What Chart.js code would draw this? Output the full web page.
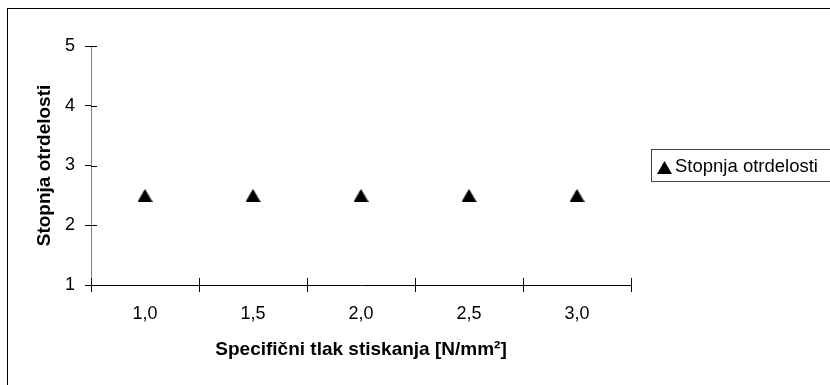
<!DOCTYPE html>
<html>
<head>
<meta charset="utf-8">
<script src="https://cdn.jsdelivr.net/npm/chart.js@4.4.0/dist/chart.umd.min.js"></script>
<style>
  html, body { margin: 0; padding: 0; background: #fff; }
  canvas { display: block; }
</style>
</head>
<body>
<canvas id="chart" width="830" height="385"></canvas>
<script>
// Pressure levels (N/mm²) and the hardening grade measured at each
const categories = ['1,0', '1,5', '2,0', '2,5', '3,0'];
const stopnjaOtrdelosti = [2.5, 2.5, 2.5, 2.5, 2.5];
const yTickValues = [1, 2, 3, 4, 5];
const seriesLabel = 'Stopnja otrdelosti';
const xTitle = 'Specifični tlak stiskanja [N/mm²]';
const yTitle = 'Stopnja otrdelosti';

const FONT = "'Liberation Sans', Arial, Helvetica, sans-serif";

// Filled triangle marker, centred on its bounding box
function triangleMarker(w, h) {
  const c = document.createElement('canvas');
  c.width = w; c.height = h;
  const g = c.getContext('2d');
  g.fillStyle = '#000';
  g.beginPath();
  g.moveTo(w / 2, 0);
  g.lineTo(w, h);
  g.lineTo(0, h);
  g.closePath();
  g.fill();
  return c;
}
const marker = triangleMarker(15, 13);

// Tick marks that cross the axis lines, an outer frame, and a boxed legend
const framePlugin = {
  id: 'frame',
  afterDraw(chart) {
    const ctx = chart.ctx;
    const a = chart.chartArea;
    const x = chart.scales.x;
    const y = chart.scales.y;
    ctx.save();
    ctx.strokeStyle = '#000';
    ctx.lineWidth = 1;
    ctx.beginPath();
    // inner halves of the y ticks
    y.ticks.forEach(t => {
      const py = Math.round(y.getPixelForValue(t.value)) + 0.5;
      ctx.moveTo(a.left, py);
      ctx.lineTo(a.left + 6, py);
    });
    // inner halves of the x ticks at category boundaries
    for (let i = 0; i <= categories.length; i++) {
      const px = Math.round(x.getPixelForValue(i - 0.5)) + 0.5;
      ctx.moveTo(px, a.bottom);
      ctx.lineTo(px, a.bottom - 7);
    }
    ctx.stroke();

    // outer frame
    ctx.strokeStyle = '#000';
    ctx.strokeRect(7.5, 8.5, 900, 900);

    // legend
    const ds = chart.data.datasets[0];
    ctx.fillStyle = '#fff';
    ctx.fillRect(651.5, 149.5, 300, 32);
    ctx.strokeStyle = '#444';
    ctx.strokeRect(651.5, 149.5, 300, 32);
    ctx.drawImage(marker, 657, 161);
    ctx.fillStyle = '#000';
    ctx.font = '18.5px ' + FONT;
    ctx.textBaseline = 'middle';
    ctx.textAlign = 'left';
    ctx.fillText(ds.label, 675, 166.5);
    ctx.restore();
  }
};

new Chart(document.getElementById('chart'), {
  type: 'line',
  data: {
    labels: categories,
    datasets: [{
      label: seriesLabel,
      data: stopnjaOtrdelosti,
      showLine: false,
      pointStyle: marker,
      pointRadius: 8,
      pointHoverRadius: 8,
      borderColor: '#000',
      backgroundColor: '#000'
    }]
  },
  options: {
    responsive: false,
    animation: false,
    events: [],
    layout: { padding: { top: 46, right: 199, bottom: 0, left: 0 } },
    plugins: {
      legend: { display: false },
      tooltip: { enabled: false }
    },
    scales: {
      x: {
        type: 'category',
        offset: true,
        grid: {
          offset: true,
          drawOnChartArea: false,
          drawTicks: true,
          tickLength: 7,
          color: '#000',
          lineWidth: 1
        },
        border: { display: true, color: '#000', width: 1 },
        ticks: {
          color: '#000',
          font: { family: FONT, size: 18, lineHeight: 1.2 },
          padding: 11,
          maxRotation: 0,
          autoSkip: false
        },
        title: {
          display: true,
          text: xTitle,
          color: '#000',
          font: { family: FONT, size: 19, weight: 'bold', lineHeight: 1.2 },
          padding: { top: 0, bottom: 23.6 }
        },
        afterFit(scale) { scale.height = 100; }
      },
      y: {
        type: 'linear',
        min: 1,
        max: 5,
        afterBuildTicks(scale) { scale.ticks = yTickValues.map(v => ({ value: v })); },
        grid: {
          drawOnChartArea: false,
          drawTicks: true,
          tickLength: 6,
          color: '#000',
          lineWidth: 1
        },
        border: { display: true, color: '#808080', width: 1 },
        ticks: {
          color: '#000',
          font: { family: FONT, size: 18, lineHeight: 1.2 },
          padding: 10
        },
        title: {
          display: true,
          text: yTitle,
          color: '#000',
          font: { family: FONT, size: 19, weight: 'bold', lineHeight: 1.2 },
          padding: { top: 33.6, bottom: 0 }
        },
        afterFit(scale) { scale.width = 91; }
      }
    }
  },
  plugins: [framePlugin]
});
</script>
</body>
</html>
